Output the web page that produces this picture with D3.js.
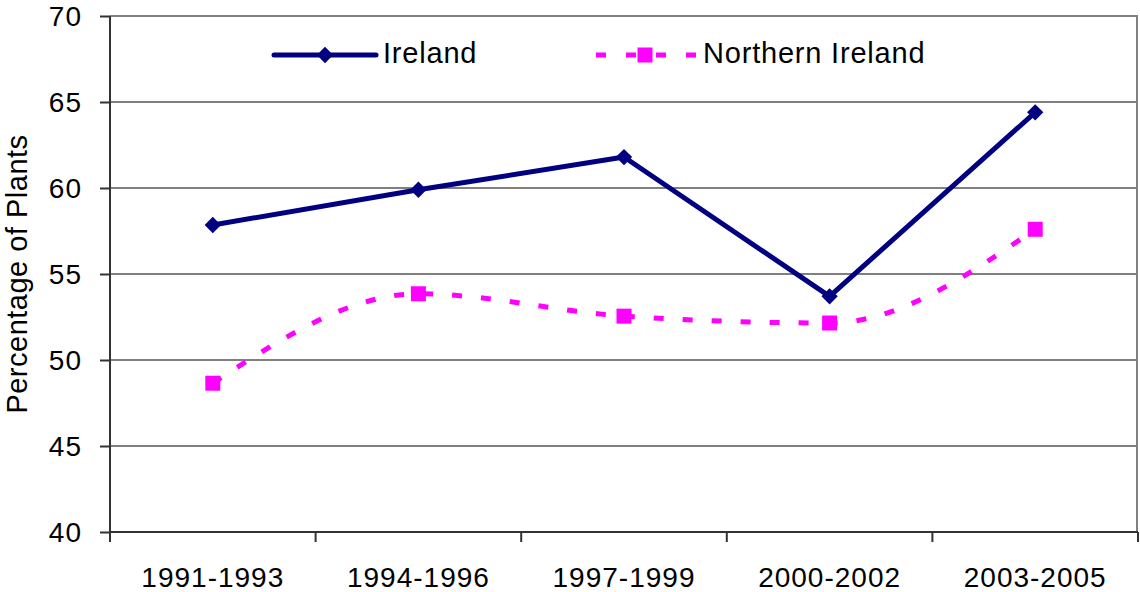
<!DOCTYPE html>
<html><head><meta charset="utf-8">
<script src="https://cdn.jsdelivr.net/npm/d3@7"></script>
<style>body{margin:0;background:#fff}svg{display:block}text{font-family:"Liberation Sans",Arial,sans-serif;fill:#000}</style>
</head><body>
<script>
const categories = ["1991-1993","1994-1996","1997-1999","2000-2002","2003-2005"];
const ireland = [57.85, 59.9, 61.8, 53.7, 64.4];
const northernIreland = [48.65, 53.85, 52.55, 52.15, 57.6];
const yTicks = [40,45,50,55,60,65,70];
const seriesNames = ["Ireland","Northern Ireland"];

const W=1140,H=592;
const m={l:110,r:2,t:16,b:60};
const FONT="Liberation Sans, Arial, sans-serif";
const svg=d3.select("body").append("svg").attr("width",W).attr("height",H);
const x=d3.scaleBand().domain(categories).range([m.l,W-m.r]);
const y=d3.scaleLinear().domain([40,70]).range([H-m.b,m.t]);

// gridlines
svg.append("g").selectAll("line").data(yTicks.slice(1)).join("line")
  .attr("x1",m.l).attr("x2",W-m.r).attr("y1",d=>y(d)).attr("y2",d=>y(d))
  .attr("stroke","#808080").attr("stroke-width",2);
svg.append("line").attr("x1",W-m.r-1).attr("x2",W-m.r-1).attr("y1",m.t).attr("y2",H-m.b)
  .attr("stroke","#808080").attr("stroke-width",2);

// y axis
const ya=svg.append("g").attr("transform",`translate(${m.l},0)`)
  .call(d3.axisLeft(y).tickValues(yTicks).tickSize(10).tickPadding(18));
ya.select(".domain").attr("stroke","#333").attr("stroke-width",2).attr("d",`M0,${y(70)}V${y(40)}`);
ya.selectAll(".tick line").attr("stroke","#333").attr("stroke-width",2);
ya.selectAll("text").attr("font-size",28).style("font-family",FONT).style("letter-spacing","1px").attr("dy","0.34em");

// x axis
const xa=svg.append("g").attr("transform",`translate(0,${y(40)})`)
  .call(d3.axisBottom(x).tickSize(0).tickPadding(0));
xa.select(".domain").attr("stroke","#333").attr("stroke-width",2).attr("d",`M${m.l},0H${W-m.r}`);
xa.selectAll("text").attr("font-size",28).style("font-family",FONT).style("letter-spacing","1px")
  .attr("y",55).attr("dy",0);
const bounds=categories.map(c=>x(c)).concat([x.range()[1]]);
svg.append("g").selectAll("line").data(bounds).join("line")
  .attr("x1",d=>d).attr("x2",d=>d).attr("y1",y(40)).attr("y2",y(40)+10)
  .attr("stroke","#333").attr("stroke-width",2);

// y label
svg.append("text").attr("transform",`translate(27,${(y(40)+y(70))/2}) rotate(-90)`)
  .attr("text-anchor","middle").attr("font-size",29).style("letter-spacing","0.5px").text("Percentage of Plants");

const cx=c=>x(c)+x.bandwidth()/2;
const navy="#000080", mag="#FF00FF";

// NI line (smoothed)
const niPts=categories.map((c,i)=>[cx(c),y(northernIreland[i])]);
svg.append("path").attr("d",d3.line().curve(d3.curveMonotoneX)(niPts))
  .attr("fill","none").attr("stroke",mag).attr("stroke-width",5).attr("stroke-dasharray","10,19");
svg.append("g").selectAll("rect").data(niPts).join("rect")
  .attr("x",d=>d[0]-7.5).attr("y",d=>d[1]-7.5).attr("width",15).attr("height",15).attr("fill",mag);

// Ireland line
const irPts=categories.map((c,i)=>[cx(c),y(ireland[i])]);
svg.append("path").attr("d",d3.line()(irPts)).attr("fill","none").attr("stroke",navy).attr("stroke-width",5).attr("stroke-linejoin","round");
const diamond=d3.symbol().type(d3.symbolDiamond2).size(170);
svg.append("g").selectAll("path").data(irPts).join("path")
  .attr("d",diamond).attr("transform",d=>`translate(${d[0]},${d[1]})`).attr("fill",navy);

// legend
const ly=55;
svg.append("line").attr("x1",274).attr("x2",376).attr("y1",ly).attr("y2",ly)
  .attr("stroke",navy).attr("stroke-width",5).attr("stroke-linecap","round");
svg.append("path").attr("d",diamond).attr("transform",`translate(325,${ly})`).attr("fill",navy);
svg.append("text").attr("x",383).attr("y",ly+8).attr("font-size",29).style("letter-spacing","0.8px").text(seriesNames[0]);
svg.append("line").attr("x1",596).attr("x2",696).attr("y1",ly).attr("y2",ly)
  .attr("stroke",mag).attr("stroke-width",5).attr("stroke-dasharray","10,20");
svg.append("rect").attr("x",645-7.5).attr("y",ly-7.5).attr("width",15).attr("height",15).attr("fill",mag);
svg.append("text").attr("x",703).attr("y",ly+8).attr("font-size",29).style("letter-spacing","0.8px").text(seriesNames[1]);
</script>
</body></html>
